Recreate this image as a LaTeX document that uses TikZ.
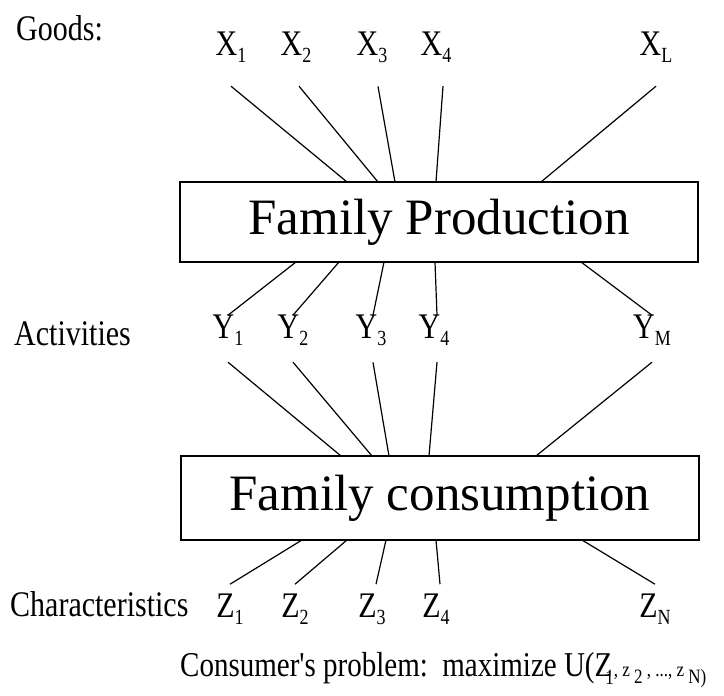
\documentclass[tikz,border=0pt]{standalone}
\usepackage{graphicx}
\usepackage{fontspec}
\setmainfont{Liberation Serif}
\newcommand{\tall}[1]{\scalebox{1}[1.2]{#1}}
\newcommand{\lbl}[2]{\tall{#1}\raisebox{-7pt}{\fontsize{18}{18}\selectfont\tall{#2}}}

\begin{document}
\begin{tikzpicture}[x=1pt, y=-1pt,
    lab/.style={font=\fontsize{30}{36}\selectfont, inner sep=3pt, anchor=base},
    side/.style={font=\fontsize{30}{36}\selectfont, inner sep=0pt, anchor=base west},
    fam/.style={draw, line width=1.2pt, minimum width=518pt,
        font=\fontsize{51}{56}\selectfont},
    link/.style={line width=1.2pt}]
    \useasboundingbox (0,0) rectangle (724,696);

    % Row labels
    \node[side] (goods) at (16,40) {\tall{Goods:}};
    \node[side] (act) at (14,345) {\tall{Activities}};
    \node[side] (char) at (10,616) {\tall{Characteristics}};

    % The two boxes
    \node[fam, minimum height=80pt] (prod) at (439,222) {Family Production};
    \node[fam, minimum height=84pt] (cons) at (440,498) {Family consumption};

    % Goods X
    \node[lab] (x1) at (231,56) {\lbl{X}{1}};
    \node[lab] (x2) at (296,56) {\lbl{X}{2}};
    \node[lab] (x3) at (372,56) {\lbl{X}{3}};
    \node[lab] (x4) at (436,56) {\lbl{X}{4}};
    \node[lab] (xl) at (656,56) {\lbl{X}{L}};

    % Activities Y
    \node[lab] (y1) at (228,338) {\lbl{Y}{1}};
    \node[lab] (y2) at (293,338) {\lbl{Y}{2}};
    \node[lab] (y3) at (371,338) {\lbl{Y}{3}};
    \node[lab] (y4) at (434,338) {\lbl{Y}{4}};
    \node[lab] (ym) at (652,338) {\lbl{Y}{M}};

    % Characteristics Z
    \node[lab] (z1) at (230,617) {\lbl{Z}{1}};
    \node[lab] (z2) at (295,617) {\lbl{Z}{2}};
    \node[lab] (z3) at (372,617) {\lbl{Z}{3}};
    \node[lab] (z4) at (436,617) {\lbl{Z}{4}};
    \node[lab] (zn) at (655,617) {\lbl{Z}{N}};

    % Points where the lines meet the boxes
    \coordinate (pt1) at (347,182); \coordinate (pt2) at (378,182);
    \coordinate (pt3) at (395,182); \coordinate (pt4) at (436,182);
    \coordinate (pt5) at (541,182);
    \coordinate (pb1) at (296,262); \coordinate (pb2) at (339,262);
    \coordinate (pb3) at (384,262); \coordinate (pb4) at (435,262);
    \coordinate (pb5) at (581,262);
    \coordinate (ct1) at (341,456); \coordinate (ct2) at (372,456);
    \coordinate (ct3) at (389,456); \coordinate (ct4) at (429,456);
    \coordinate (ct5) at (536,456);
    \coordinate (cb1) at (302,540); \coordinate (cb2) at (347,540);
    \coordinate (cb3) at (386,540); \coordinate (cb4) at (436,540);
    \coordinate (cb5) at (582,540);

    \draw[link] ([yshift=-20pt]x1.south)--(pt1) ([shift={(3pt,-20pt)}]x2.south)--(pt2)
        ([shift={(6pt,-20pt)}]x3.south)--(pt3) ([shift={(7pt,-20pt)}]x4.south)--(pt4)
        ([yshift=-20pt]xl.south)--(pt5);
    \draw[link] ([yshift=-4pt]y1.north)--(pb1) ([yshift=-4pt]y2.north)--(pb2)
        ([shift={(2pt,-4pt)}]y3.north)--(pb3) ([shift={(3pt,-4pt)}]y4.north)--(pb4)
        ([yshift=-4pt]ym.north)--(pb5);
    \draw[link] ([yshift=-14pt]y1.south)--(ct1) ([yshift=-14pt]y2.south)--(ct2)
        ([shift={(2pt,-14pt)}]y3.south)--(ct3) ([shift={(3pt,-14pt)}]y4.south)--(ct4)
        ([yshift=-14pt]ym.south)--(ct5);
    \draw[link] ([yshift=6pt]z1.north)--(cb1) ([yshift=6pt]z2.north)--(cb2)
        ([shift={(4pt,6pt)}]z3.north)--(cb3) ([shift={(4pt,6pt)}]z4.north)--(cb4)
        ([yshift=6pt]zn.north)--(cb5);

    % Bottom line
    \node[side, font=\fontsize{29}{34}\selectfont] (prob) at (180,676)
        {\tall{Consumer\textquotesingle s problem:\ \ maximize
        U(Z\kern-7pt\raisebox{-7pt}{\fontsize{17}{18}\selectfont 1}%
        {\fontsize{17}{20}\selectfont, z \raisebox{-6pt}{2} , ..., z
        \raisebox{-6pt}{N)}}}};
\end{tikzpicture}
\end{document}
